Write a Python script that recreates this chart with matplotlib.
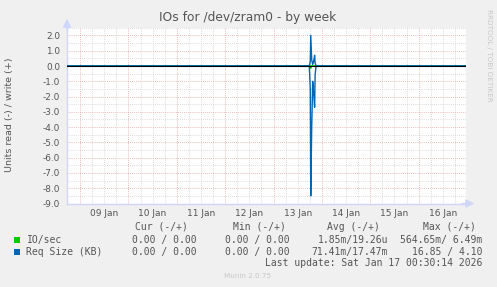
import numpy as np
import matplotlib
matplotlib.use("Agg")
import matplotlib.pyplot as plt
from matplotlib.patches import Rectangle

W, H = 497, 287

# data (x in days since 09 Jan 00:00)
day_labels = ["09 Jan", "10 Jan", "11 Jan", "12 Jan", "13 Jan", "14 Jan", "15 Jan", "16 Jan"]
t = [-0.27, 4.74, 4.76, 4.77, 4.79, 4.81, 4.83, 4.85, 4.86, 4.88, 7.98]
req_write = [0, 0, 0.3, 2.0, 0.4, 0.1, 0.3, 0.7, 0.2, 0, 0]
req_read = [0, 0, -1.5, -8.5, -4.0, -1.0, -1.8, -2.7, -0.6, 0, 0]
io_write = [0, 0, 0, 0.0065, 0, 0, 0, 0, 0, 0, 0]
io_read = [0, 0, 0, -0.15, 0, 0, 0, 0, 0, 0, 0]

legend_rows = [
    ("IO/sec", "#00cc00", "0.00 / 0.00", "0.00 / 0.00", "1.85m/19.26u", "564.65m/ 6.49m"),
    ("Req Size (KB)", "#0066b3", "0.00 / 0.00", "0.00 / 0.00", "71.41m/17.47m", "16.85 / 4.10"),
]
headers = ["Cur (-/+)", "Min (-/+)", "Avg (-/+)", "Max (-/+)"]

xmin, xmax = -0.27, 7.98
ymin, ymax = -9.0, 2.52

txt = "#555555"
axis_col = "#CFD6F8"
grid_minor = "#cfcfcf"
grid_major = "#e8a4a4"


def fx(px):
    return px / W


def fy(py):
    return 1 - py / H


fig = plt.figure(figsize=(W / 100, H / 100), dpi=100, facecolor="#f0f0f0")
ax = fig.add_axes([fx(67), fy(203.5), fx(466) - fx(67), fy(27.5) - fy(203.5)])
ax.set_facecolor("white")
ax.set_xlim(xmin, xmax)
ax.set_ylim(ymin, ymax)

# grid
for d in np.arange(0, 8.01, 0.25):
    if d > xmax:
        break
    major = abs(d - round(d)) < 1e-9
    ax.axvline(d, color=grid_major if major else grid_minor, lw=0.6,
               ls=(0, (1, 1.5)), zorder=1)
for v in np.arange(-8.5, 2.51, 0.5):
    major = abs(v - round(v)) < 1e-9
    ax.axhline(v, color=grid_major if major else grid_minor, lw=0.6,
               ls=(0, (1, 1.5)), zorder=1)

# series
ax.plot(t, io_write, color="#00cc00", lw=1, zorder=2)
ax.plot(t, io_read, color="#00cc00", lw=1, zorder=2)
ax.plot(t, req_write, color="#0066b3", lw=1, zorder=3)
ax.plot(t, req_read, color="#0066b3", lw=1, zorder=3)
ax.axhline(0, color="black", lw=0.8, zorder=4)

# axes
for s in ["top", "right"]:
    ax.spines[s].set_visible(False)
for s in ["left", "bottom"]:
    ax.spines[s].set_color(axis_col)
    ax.spines[s].set_linewidth(1)
ax.annotate("", xy=(0, 1.05), xytext=(0, 0.99), xycoords="axes fraction",
            arrowprops=dict(arrowstyle="-|>,head_length=0.5,head_width=0.25",
                            color=axis_col, lw=1, shrinkA=0, shrinkB=0))
ax.annotate("", xy=(1.021, 0), xytext=(0.99, 0), xycoords="axes fraction",
            arrowprops=dict(arrowstyle="-|>,head_length=0.5,head_width=0.25",
                            color=axis_col, lw=1, shrinkA=0, shrinkB=0))

yt = np.arange(-9, 2.1, 1.0)
ax.set_yticks(yt, [f"{v:.1f}" for v in yt])
ax.set_xticks(np.arange(len(day_labels)) + 0.5, day_labels)
ax.tick_params(axis="y", length=0, pad=5, labelsize=6.4, labelcolor=txt)
ax.tick_params(axis="x", length=0, pad=4, labelsize=6.5, labelcolor=txt)

fig.text(fx(248), fy(17), "IOs for /dev/zram0 - by week", ha="center", va="center",
         fontsize=8.8, color="#555555")
fig.text(fx(10), fy(115), "Units read (-) / write (+)", rotation=90, ha="center",
         va="center", fontsize=6.8, color=txt)
fig.text(fx(489), fy(55), "RRDTOOL / TOBI OETIKER", rotation=270, ha="center",
         va="center", fontsize=5.2, color="#c8c8c8")

# legend
mono = "DejaVu Sans Mono"
fs = 7.0
head_cx = [161, 259, 353.5, 449.5]
val_right = [197, 290, 388, 482]
for h, cx in zip(headers, head_cx):
    fig.text(fx(cx), fy(226.7), h, ha="center", va="center", family=mono, fontsize=fs, color=txt)
row_y = [240, 251.7]
for (name, col, cur, mn, avg, mx), ry in zip(legend_rows, row_y):
    fig.add_artist(Rectangle((fx(14), fy(ry + 3)), 6 / W, 6 / H, transform=fig.transFigure,
                             facecolor=col, edgecolor="none"))
    fig.text(fx(26.5), fy(ry), name, ha="left", va="center", family=mono, fontsize=fs, color=txt)
    for val, xr in zip([cur, mn, avg, mx], val_right):
        fig.text(fx(xr), fy(ry), val, ha="right", va="center", family=mono, fontsize=fs, color=txt)
fig.text(fx(482), fy(263.3), "Last update: Sat Jan 17 00:30:14 2026", ha="right", va="center",
         family=mono, fontsize=fs, color=txt)
fig.text(fx(248), fy(276), "Munin 2.0.75", ha="center", va="center", fontsize=5.2, color="#c8c8c8")

fig.savefig("out.png", dpi=100, facecolor=fig.get_facecolor())
